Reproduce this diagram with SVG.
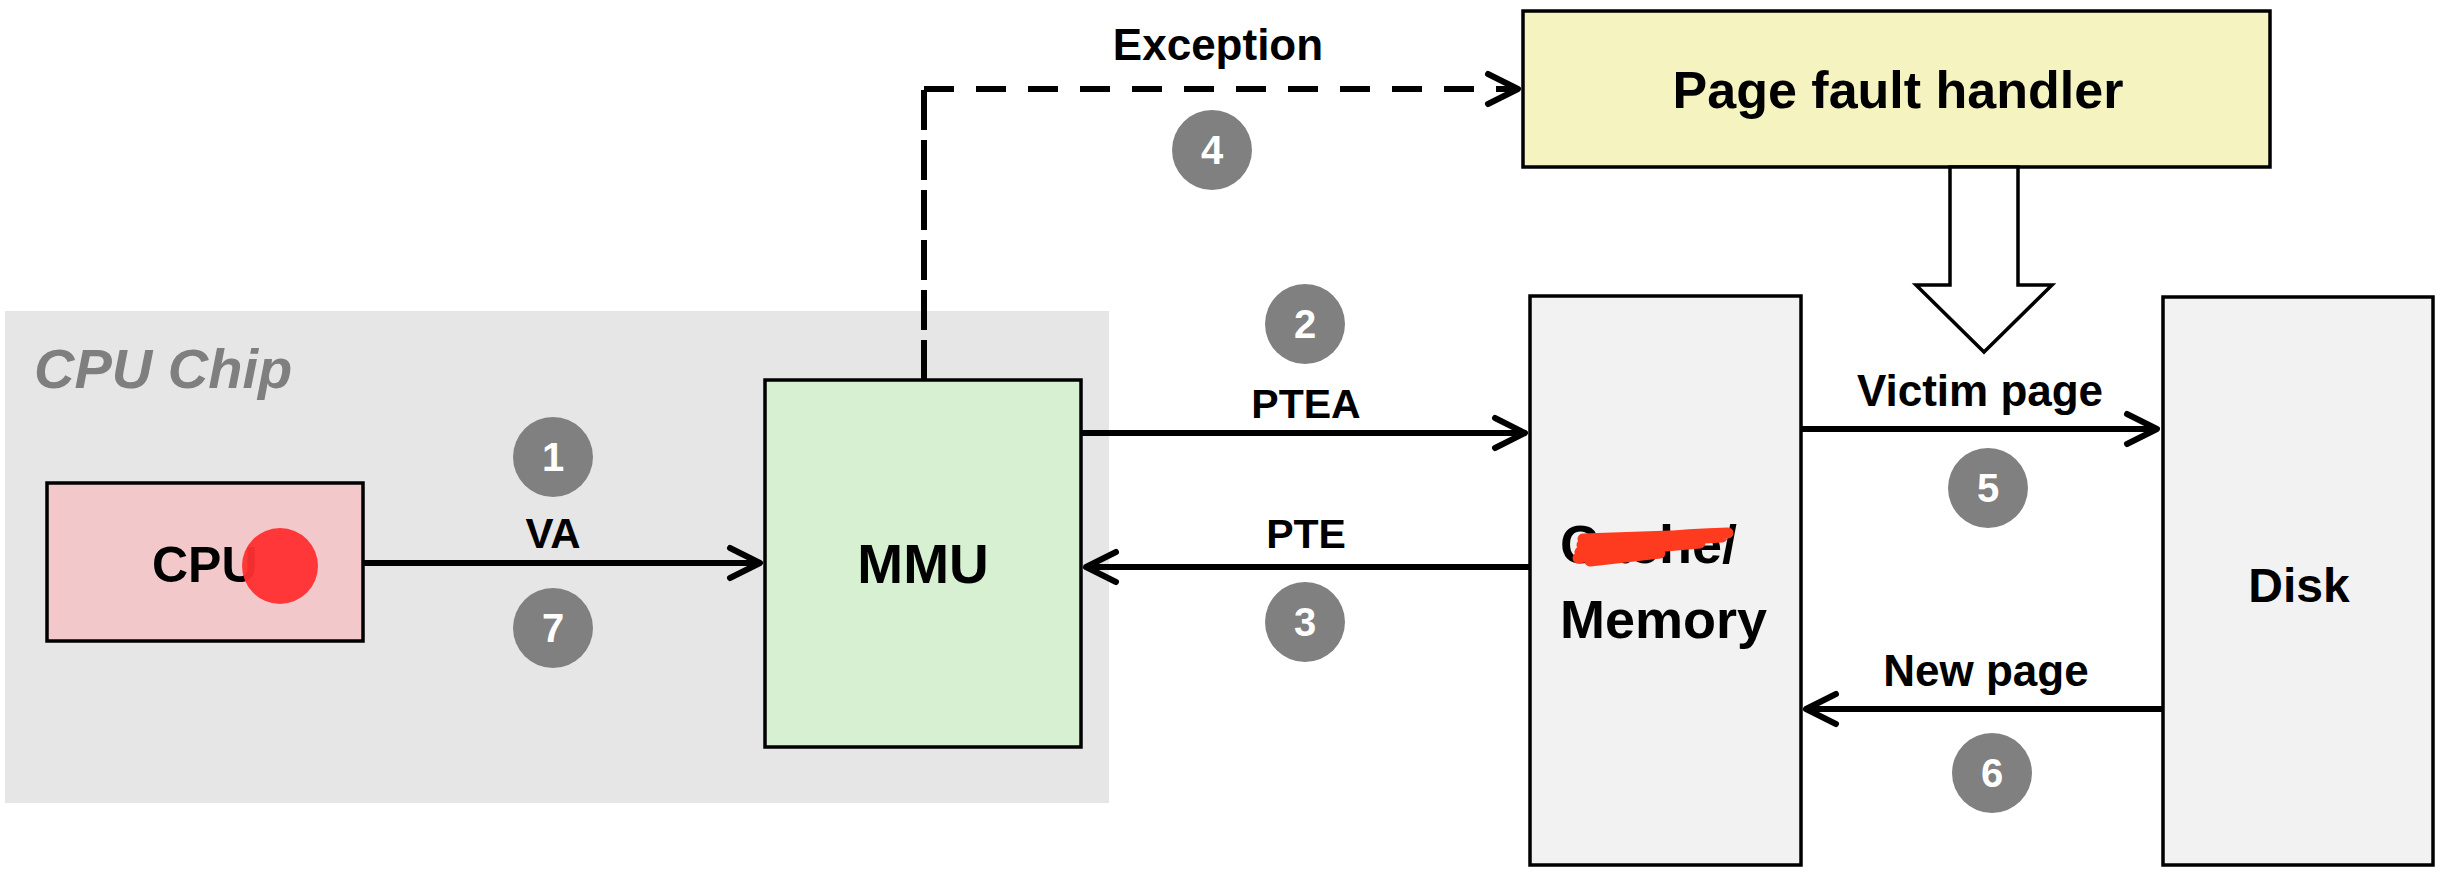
<svg xmlns="http://www.w3.org/2000/svg" width="2440" height="878" viewBox="0 0 2440 878">
<defs>
<style>
.box{stroke:#000;stroke-width:3.5}
.lbl{font-family:"Liberation Sans",Arial,sans-serif;font-weight:bold;fill:#000;text-anchor:middle}
.num{font-family:"Liberation Sans",Arial,sans-serif;font-weight:bold;fill:#fff;text-anchor:middle;font-size:40px}
.badge{fill:#808080}
.conn{stroke:#000;stroke-width:6;fill:none}
</style>
<marker id="arr" markerUnits="userSpaceOnUse" markerWidth="50" markerHeight="50" viewBox="-40 -25 50 50" refX="0" refY="0" orient="auto">
<path d="M-30,-15 L0,0 L-30,15" fill="none" stroke="#000" stroke-width="6" stroke-linecap="round" stroke-linejoin="round"/>
</marker>
</defs>
<rect width="2440" height="878" fill="#fff"/>

<g id="cpu-chip">
<rect x="5" y="311" width="1104" height="492" fill="#e6e6e6"/>
<text x="34" y="388" font-family="Liberation Sans,Arial,sans-serif" font-style="italic" font-weight="bold" font-size="56" fill="#7f7f7f">CPU Chip</text>
</g>

<g id="cpu">
<rect class="box" x="47" y="483" width="316" height="158" fill="#f2c8cb"/>
<text class="lbl" x="152" y="582" font-size="50" style="text-anchor:start">CPU</text>
<circle cx="280" cy="566" r="38" fill="#ff2f2f" fill-opacity="0.95"/>
</g>

<g id="mmu">
<rect class="box" x="765" y="380" width="316" height="367" fill="#d6f0d1"/>
<text class="lbl" x="923" y="583" font-size="55">MMU</text>
</g>

<g id="page-fault-handler">
<rect class="box" x="1523" y="11" width="747" height="156" fill="#f5f3c0"/>
<text class="lbl" x="1898" y="108" font-size="52">Page fault handler</text>
</g>

<g id="memory">
<rect class="box" x="1530" y="296" width="271" height="569" fill="#f2f2f2"/>
<text class="lbl" x="1560" y="563" font-size="54" style="text-anchor:start">Cache/</text>
<path d="M1580,552 C1620,540 1680,534 1728,533 M1578,558 C1620,550 1660,546 1700,543 M1582,545 L1722,537 M1590,561 L1660,553 M1583,539 L1700,535" stroke="#ff3b1f" stroke-width="11" fill="none" stroke-linecap="round"/>
<text class="lbl" x="1560" y="638" font-size="54" style="text-anchor:start">Memory</text>
</g>

<g id="disk">
<rect class="box" x="2163" y="297" width="270" height="568" fill="#f2f2f2"/>
<text class="lbl" x="2299" y="602" font-size="48">Disk</text>
</g>

<g id="connectors">
<line class="conn" x1="363" y1="563" x2="760" y2="563" marker-end="url(#arr)"/>
<line class="conn" x1="1081" y1="433" x2="1525" y2="433" marker-end="url(#arr)"/>
<line class="conn" x1="1530" y1="567" x2="1086" y2="567" marker-end="url(#arr)"/>
<line class="conn" x1="1801" y1="429" x2="2157" y2="429" marker-end="url(#arr)"/>
<line class="conn" x1="2163" y1="709" x2="1806" y2="709" marker-end="url(#arr)"/>
<path class="conn" d="M924,380 V89" stroke-dasharray="40 10"/>
<path class="conn" d="M924,89 H1518" stroke-dasharray="30 22" marker-end="url(#arr)"/>
<polygon points="1950,167 2018,167 2018,285 2052,285 1984,352 1916,285 1950,285" fill="#fff" stroke="#000" stroke-width="3.5"/>
</g>

<g id="labels">
<text class="lbl" x="553" y="548" font-size="42">VA</text>
<text class="lbl" x="1306" y="418" font-size="41">PTEA</text>
<text class="lbl" x="1306" y="548" font-size="41">PTE</text>
<text class="lbl" x="1218" y="60" font-size="44">Exception</text>
<text class="lbl" x="1980" y="406" font-size="44">Victim page</text>
<text class="lbl" x="1986" y="686" font-size="44">New page</text>
</g>

<g id="badges">
<circle class="badge" cx="553" cy="457" r="40"/><text class="num" x="553" y="471">1</text>
<circle class="badge" cx="1305" cy="324" r="40"/><text class="num" x="1305" y="338">2</text>
<circle class="badge" cx="1305" cy="622" r="40"/><text class="num" x="1305" y="636">3</text>
<circle class="badge" cx="1212" cy="150" r="40"/><text class="num" x="1212" y="164">4</text>
<circle class="badge" cx="1988" cy="488" r="40"/><text class="num" x="1988" y="502">5</text>
<circle class="badge" cx="1992" cy="773" r="40"/><text class="num" x="1992" y="787">6</text>
<circle class="badge" cx="553" cy="628" r="40"/><text class="num" x="553" y="642">7</text>
</g>
</svg>
